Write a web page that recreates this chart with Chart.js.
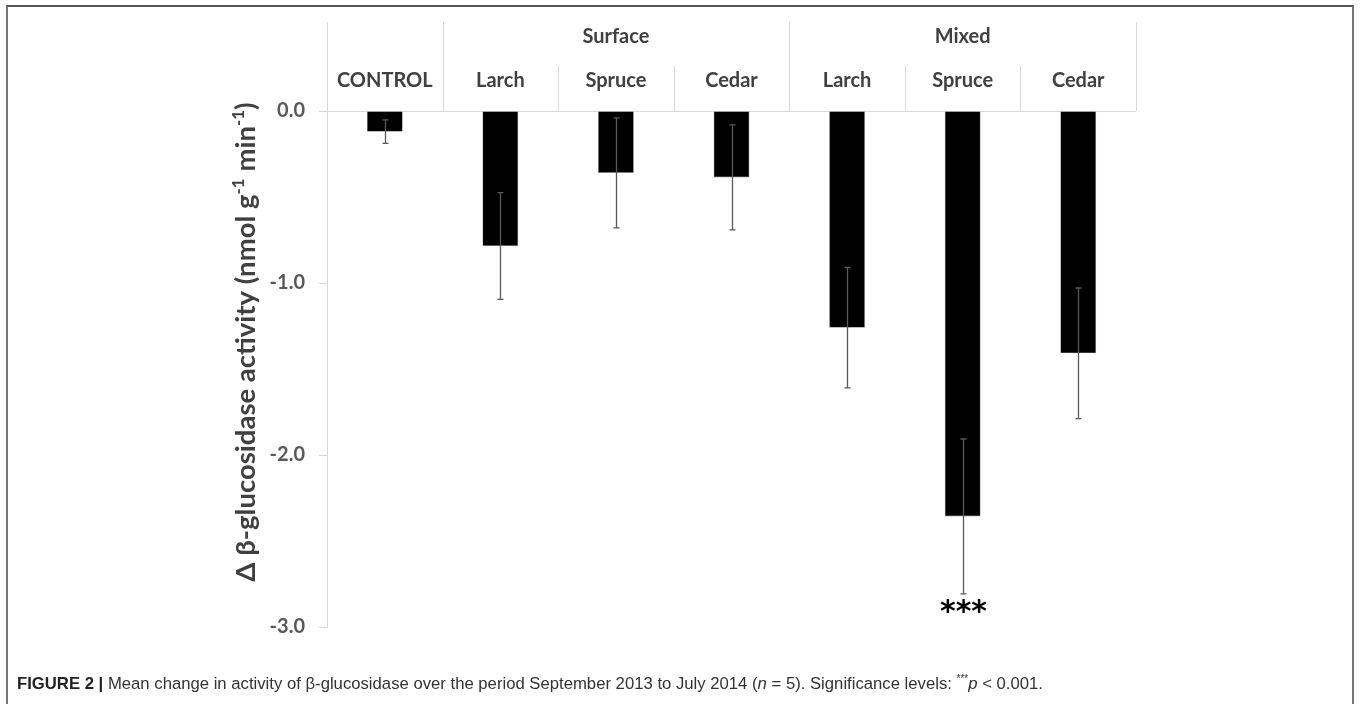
<!DOCTYPE html>
<html>
<head>
<meta charset="utf-8">
<script src="https://cdn.jsdelivr.net/npm/chart.js@4"></script>
<style>
  html, body { margin: 0; padding: 0; background: #fff; width: 1362px; height: 704px; overflow: hidden; }
  #wrap { position: relative; width: 1362px; height: 704px; }
  #c { position: absolute; left: 0; top: 0; }
  #frame { position: absolute; left: 6px; top: 5px; width: 1348px; height: 720px;
           border-left: 2px solid #777; border-top: 2px solid #555; border-right: 2px solid #777; box-sizing: border-box; }
  #caption { position: absolute; left: 17px; top: 673px; font-family: 'Liberation Sans', Arial, sans-serif;
             font-size: 16.7px; color: #333; white-space: nowrap; transform-origin: 0 0; }
  #caption b { color: #222; }
  #caption sup { font-size: 10px; }
</style>
</head>
<body>
<div id="wrap">
  <canvas id="c" width="1362" height="704"></canvas>
  <div id="frame"></div>
  <div id="caption"><b>FIGURE 2 |</b> Mean change in activity of β-glucosidase over the period September 2013 to July 2014 (<i>n</i> = 5). Significance levels: <sup>***</sup><i>p</i> &lt; 0.001.</div>
</div>
<script>
// ---- data ----
const categories = ['CONTROL', 'Larch', 'Spruce', 'Cedar', 'Larch', 'Spruce', 'Cedar'];
const groups = ['', 'Surface', 'Surface', 'Surface', 'Mixed', 'Mixed', 'Mixed'];
const meanChange = [-0.12, -0.785, -0.36, -0.386, -1.26, -2.357, -1.409];
const stdError = [0.068, 0.31, 0.32, 0.305, 0.35, 0.45, 0.38];
const significance = ['', '', '', '', '', '***', ''];
const yMin = -3, yMax = 0, yStep = 1;

const FONT = 'Lato';

const headerPlugin = {
  id: 'header',
  afterDraw(chart) {
    const ctx = chart.ctx;
    const xs = chart.scales.x;
    const top = chart.chartArea.top;
    const n = categories.length;
    const w = xs.width / n;
    const rowTop = 22, rowMid = 66;
    ctx.save();
    ctx.strokeStyle = '#d9d9d9';
    ctx.lineWidth = 1;
    for (let i = 0; i <= n; i++) {
      const bx = Math.round(xs.left + i * w) + 0.5;
      const prevG = i > 0 ? groups[i - 1] : null;
      const nextG = i < n ? groups[i] : null;
      const groupEdge = (prevG !== nextG) || prevG === '' || nextG === '';
      ctx.beginPath();
      ctx.moveTo(bx, groupEdge ? rowTop : rowMid);
      ctx.lineTo(bx, top);
      ctx.stroke();
    }
    ctx.fillStyle = '#404040';
    ctx.textAlign = 'center';
    ctx.textBaseline = 'middle';
    ctx.font = 'bold 20px ' + FONT;
    categories.forEach((c, i) => {
      ctx.fillText(c, xs.getPixelForValue(i), 81);
    });
    let i = 0;
    while (i < n) {
      let j = i;
      while (j + 1 < n && groups[j + 1] === groups[i]) j++;
      if (groups[i]) {
        const cx = (xs.getPixelForValue(i) + xs.getPixelForValue(j)) / 2;
        ctx.fillText(groups[i], cx, 37);
      }
      i = j + 1;
    }
    ctx.restore();
  }
};

const errorPlugin = {
  id: 'errbars',
  afterDatasetsDraw(chart) {
    const ctx = chart.ctx;
    const xs = chart.scales.x, ys = chart.scales.y;
    ctx.save();
    ctx.strokeStyle = '#595959';
    ctx.lineWidth = 1.3;
    meanChange.forEach((v, i) => {
      const x = Math.round(xs.getPixelForValue(i)) + 0.5;
      const y1 = ys.getPixelForValue(v + stdError[i]);
      const y2 = ys.getPixelForValue(v - stdError[i]);
      ctx.beginPath();
      ctx.moveTo(x, y1); ctx.lineTo(x, y2);
      ctx.moveTo(x - 3, y1); ctx.lineTo(x + 3, y1);
      ctx.moveTo(x - 3, y2); ctx.lineTo(x + 3, y2);
      ctx.stroke();
      if (significance[i]) {
        ctx.fillStyle = '#000';
        ctx.font = 'bold 30px "DejaVu Sans"';
        ctx.textAlign = 'center';
        ctx.textBaseline = 'top';
        ctx.fillText(significance[i], x, y2 + 4);
      }
    });
    ctx.restore();
  }
};

const titlePlugin = {
  id: 'ytitle',
  afterDraw(chart) {
    const ctx = chart.ctx;
    const parts = [
      ['Δ β-glucosidase activity (nmol g', false],
      ['-1', true],
      [' min', false],
      ['-1', true],
      [')', false]
    ];
    const size = 27.5, sup = 17;
    ctx.save();
    let total = 0;
    parts.forEach(p => {
      ctx.font = 'bold ' + (p[1] ? sup : size) + 'px ' + FONT;
      total += ctx.measureText(p[0]).width;
    });
    const cx = 246, cy = 342;
    ctx.translate(cx, cy);
    ctx.rotate(-Math.PI / 2);
    ctx.fillStyle = '#404040';
    ctx.textBaseline = 'alphabetic';
    ctx.textAlign = 'left';
    let x = -total / 2;
    const base = 9;
    parts.forEach(p => {
      ctx.font = 'bold ' + (p[1] ? sup : size) + 'px ' + FONT;
      ctx.fillText(p[0], x, p[1] ? base - 11 : base);
      x += ctx.measureText(p[0]).width;
    });
    ctx.restore();
  }
};

new Chart(document.getElementById('c'), {
  type: 'bar',
  data: {
    labels: categories,
    datasets: [{
      data: meanChange,
      backgroundColor: '#000',
      borderColor: '#888',
      borderWidth: 0.6,
      barPercentage: 0.31,
      categoryPercentage: 1.0
    }]
  },
  options: {
    responsive: false,
    animation: false,
    devicePixelRatio: 1,
    layout: { padding: { left: 217, right: 226, top: 111, bottom: 77 } },
    plugins: { legend: { display: false }, tooltip: { enabled: false } },
    scales: {
      x: { display: false },
      y: {
        min: yMin, max: yMax,
        afterFit(s) { s.width = 110; },
        ticks: {
          stepSize: yStep,
          padding: 14,
          color: '#595959',
          font: { family: FONT, size: 20, weight: 'bold' },
          callback: v => v.toFixed(1)
        },
        grid: {
          color: ctx => (ctx.tick && ctx.tick.value === 0) ? '#d9d9d9' : 'rgba(0,0,0,0)',
          tickColor: '#d9d9d9',
          tickLength: 8,
          lineWidth: 1
        },
        border: { display: true, color: '#d9d9d9', width: 1 }
      }
    }
  },
  plugins: [headerPlugin, errorPlugin, titlePlugin]
});
</script>
</body>
</html>
